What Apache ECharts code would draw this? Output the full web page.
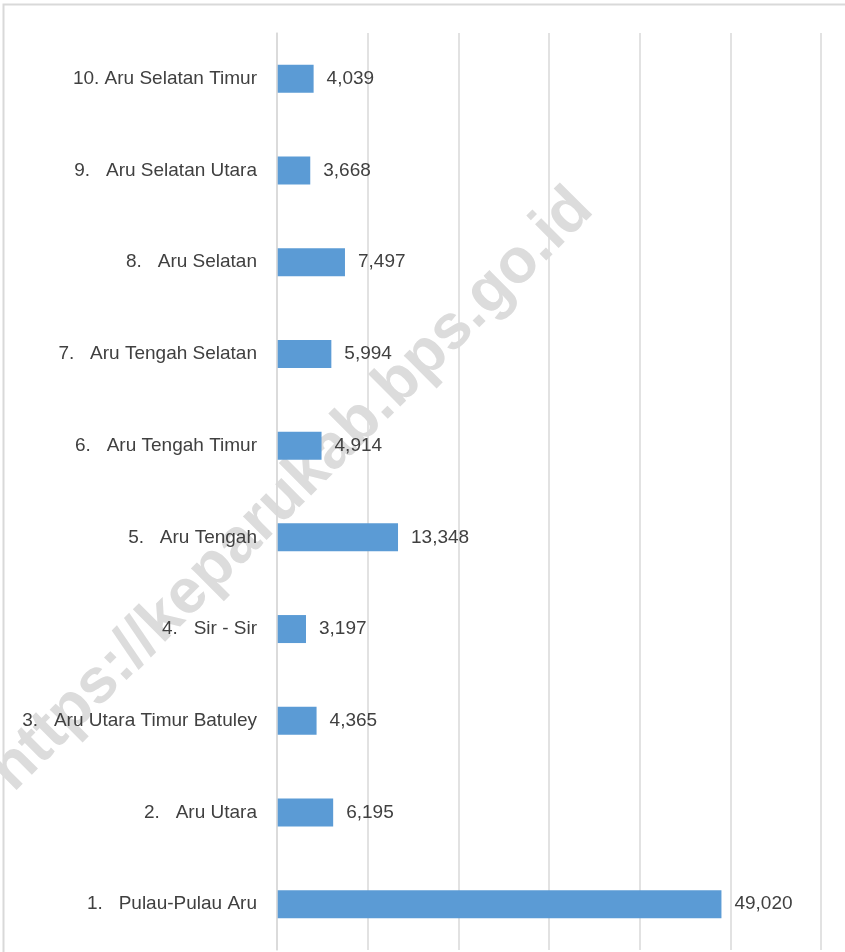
<!DOCTYPE html>
<html>
<head>
    <meta charset="utf-8">
    <title>Aru</title>
    <script src="https://cdn.jsdelivr.net/npm/echarts@6/dist/echarts.min.js"></script>
    <style>
        html, body { margin: 0; padding: 0; background: #fff; }
    </style>
</head>
<body>
    <div id="myChart" style="width: 845px;height:952px;"></div>
    <script>
        // kategori dari bawah ke atas
        var categories = [
            '1.   Pulau-Pulau Aru',
            '2.   Aru Utara',
            '3.   Aru Utara Timur Batuley',
            '4.   Sir - Sir',
            '5.   Aru Tengah',
            '6.   Aru Tengah Timur',
            '7.   Aru Tengah Selatan',
            '8.   Aru Selatan',
            '9.   Aru Selatan Utara',
            '10. Aru Selatan Timur'
        ];
        var values = [49020, 6195, 4365, 3197, 13348, 4914, 5994, 7497, 3668, 4039];

        var myChart = echarts.init(document.getElementById('myChart'));

        var option = {
            animation: false,
            backgroundColor: '#fff',
            graphic: [{
                type: 'rect',
                z: 0,
                shape: { x: 3.5, y: 4.5, width: 900, height: 1000 },
                style: { fill: 'none', stroke: '#d9d9d9', lineWidth: 2 }
            }, {
                type: 'text',
                z: 1,
                x: 292,
                y: 490,
                rotation: Math.PI / 4,
                style: {
                    text: 'https://keparukab.bps.go.id',
                    fill: '#dcdcdc',
                    font: 'bold 63px "Liberation Sans", Arial, sans-serif',
                    align: 'center',
                    verticalAlign: 'middle'
                }
            }],
            grid: {
                left: 277,
                right: 24,
                top: 33,
                bottom: 2,
                containLabel: false
            },
            xAxis: {
                type: 'value',
                min: 0,
                max: 60000,
                interval: 10000,
                axisLabel: { show: false },
                axisLine: { show: false },
                axisTick: { show: false },
                splitLine: { lineStyle: { color: '#d9d9d9', width: 1.5 } }
            },
            yAxis: {
                type: 'category',
                data: categories,
                z: 3,
                axisLine: { show: true, lineStyle: { color: '#d9d9d9', width: 1.5 } },
                axisTick: { show: false },
                axisLabel: {
                    color: '#404040',
                    fontSize: 19,
                    fontFamily: '"Liberation Sans", Arial, sans-serif',
                    margin: 20
                }
            },
            series: [{
                type: 'bar',
                data: values,
                barWidth: 28,
                z: 2,
                itemStyle: { color: '#5b9bd5' },
                label: {
                    show: true,
                    position: 'right',
                    distance: 13,
                    color: '#404040',
                    fontSize: 19,
                    fontFamily: '"Liberation Sans", Arial, sans-serif',
                    formatter: function (p) { return p.value.toLocaleString('en-US'); }
                }
            }]
        };
        myChart.setOption(option);
    </script>
</body>
</html>
